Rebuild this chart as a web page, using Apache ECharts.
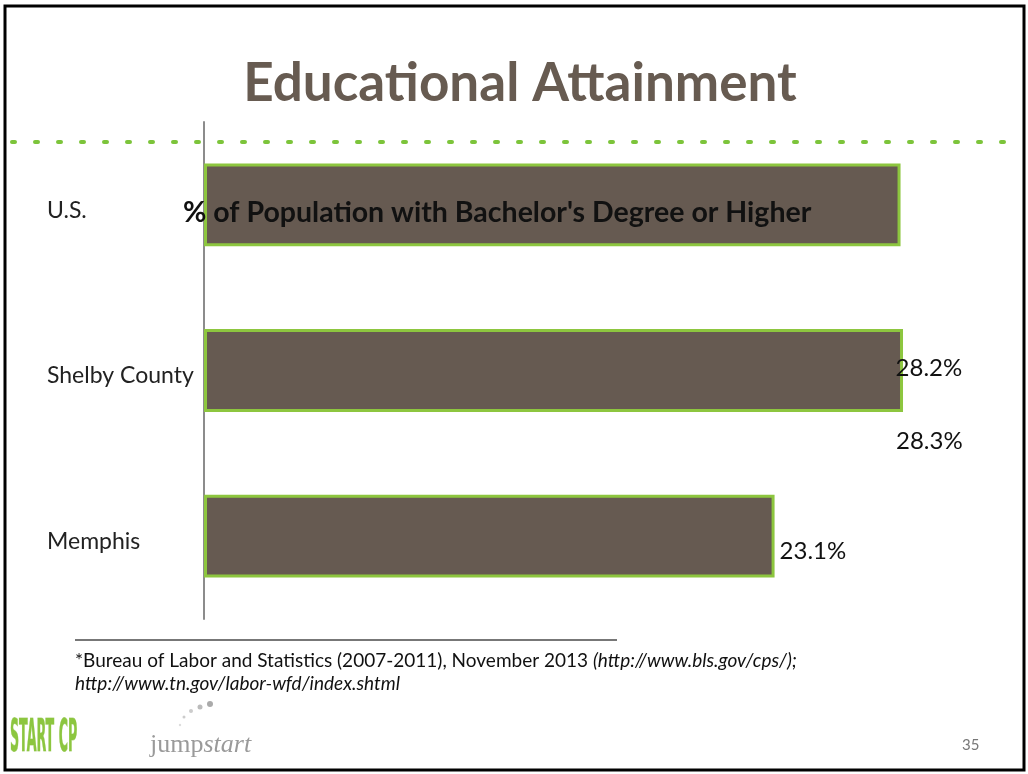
<!DOCTYPE html>
<html>
<head>
<meta charset="utf-8">
<style>
  html, body { margin: 0; padding: 0; background: #fff; }
  #main { width: 1028px; height: 774px; }
</style>
<script src="https://cdn.jsdelivr.net/npm/echarts@6/dist/echarts.min.js"></script>
</head>
<body>
<div id="main"></div>
<script>
// 数据
var categories = ['U.S.', 'Shelby County', 'Memphis'];
var values = [28.2, 28.3, 23.1];
var valueLabels = ['28.2%', '28.3%', '23.1%'];

var FONT = 'Lato, "Open Sans", sans-serif';
var chart = echarts.init(document.getElementById('main'));

// 标签位置跟原图一样是错位的
var labelOffsets = [[-10, 163], [-12, 71], [0, 15]];

var option = {
  animation: false,
  grid: { left: 204, top: 122, width: 741, height: 497 },
  xAxis: {
    type: 'value',
    min: 0,
    max: 30,
    show: false
  },
  yAxis: {
    type: 'category',
    data: categories,
    inverse: true,
    axisLine: { show: true, lineStyle: { color: '#8c8c8c', width: 2 } },
    axisTick: { show: false },
    axisLabel: {
      align: 'left',
      margin: 157,
      formatter: '{a|{value}}',
      rich: {
        a: { color: '#222', fontSize: 23, fontFamily: FONT, padding: [11, 0, 0, 0] }
      }
    }
  },
  series: [{
    type: 'bar',
    barCategoryGap: '50%',
    data: values.map(function (v, i) {
      return {
        value: v,
        label: {
          show: true,
          position: 'right',
          offset: labelOffsets[i],
          formatter: valueLabels[i],
          color: '#111',
          fontSize: 24,
          fontFamily: FONT
        }
      };
    }),
    itemStyle: {
      color: '#665a51',
      borderColor: '#8dc63f',
      borderWidth: 3
    }
  }],
  graphic: [
    // 边框
    { type: 'rect', shape: { x: 5, y: 6, width: 1019, height: 764 },
      style: { fill: 'none', stroke: '#000', lineWidth: 3 }, z: 100 },
    { type: 'text', x: 520, y: 84,
      style: { text: 'Educational Attainment', fill: '#675b51', font: 'bold 53px ' + FONT,
        align: 'center', verticalAlign: 'middle' } },
    // 绿色虚点线
    { type: 'line', shape: { x1: 12, y1: 142, x2: 1022, y2: 142 },
      style: { stroke: '#7cc43a', lineWidth: 4, lineDash: [3, 20], lineCap: 'round' } },
    { type: 'text', x: 183, y: 213, z: 50,
      style: { text: "% of Population with Bachelor's Degree or Higher", fill: '#111',
        font: 'bold 28.5px ' + FONT, verticalAlign: 'middle' } },
    // 脚注
    { type: 'line', shape: { x1: 75, y1: 640, x2: 617, y2: 640 },
      style: { stroke: '#777', lineWidth: 2 } },
    { type: 'text', x: 75, y: 672,
      style: {
        text: '{n|*Bureau of Labor and Statistics (2007-2011), November 2013 }{i|(http://www.bls.gov/cps/);}\n{i|http://www.tn.gov/labor-wfd/index.shtml}',
        verticalAlign: 'middle',
        rich: {
          n: { fontFamily: FONT, fontSize: 19, fill: '#111', lineHeight: 23 },
          i: { fontFamily: FONT, fontSize: 19, fontStyle: 'italic', fill: '#111', lineHeight: 23 }
        }
      } },
    // logo
    { type: 'text', x: 10, y: 740, scaleX: 0.32,
      style: { text: 'START CP', fill: '#8cc63f', font: 'bold 44px "DejaVu Sans Condensed", sans-serif',
        verticalAlign: 'middle', stroke: '#b9d98f', lineWidth: 1 } },
    { type: 'text', x: 150, y: 745,
      style: { text: '{a|jump}{b|start}', verticalAlign: 'middle',
        rich: {
          a: { fill: '#9a9a9a', fontFamily: '"Liberation Serif", serif', fontSize: 26 },
          b: { fill: '#9a9a9a', fontFamily: '"Liberation Serif", serif', fontSize: 26, fontStyle: 'italic' }
        } } },
    { type: 'circle', shape: { cx: 210, cy: 704, r: 3 }, style: { fill: '#aaa' } },
    { type: 'circle', shape: { cx: 200, cy: 707, r: 2.5 }, style: { fill: '#bbb' } },
    { type: 'circle', shape: { cx: 191, cy: 711, r: 2 }, style: { fill: '#ccc' } },
    { type: 'circle', shape: { cx: 184, cy: 717, r: 1.5 }, style: { fill: '#ccc' } },
    { type: 'circle', shape: { cx: 180, cy: 725, r: 1.2 }, style: { fill: '#ddd' } },
    { type: 'text', x: 962, y: 745,
      style: { text: '35', fill: '#777', font: '15px ' + FONT, verticalAlign: 'middle' } }
  ]
};

chart.setOption(option);
</script>
</body>
</html>
